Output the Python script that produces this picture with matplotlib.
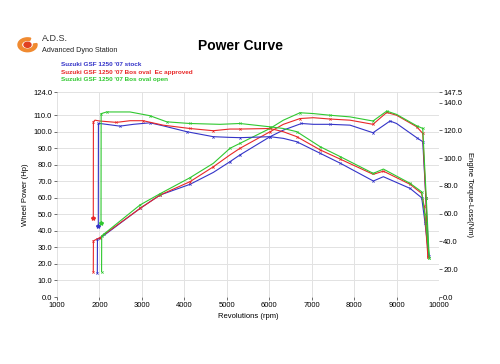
import matplotlib
matplotlib.use("Agg")
import matplotlib.pyplot as plt
from matplotlib.patches import Wedge
import numpy as np

plt.rcParams['font.family'] = ['Liberation Sans', 'DejaVu Sans']

# ---- data read from the dyno sheet ----
names = ["Suzuki GSF 1250 '07 stock",
         "Suzuki GSF 1250 '07 Bos oval  Ec approved",
         "Suzuki GSF 1250 '07 Bos oval open"]
colors = ['#3434c8', '#e82828', '#30c830']

# wheel power (Hp), left axis
rpm_pw_stock = [1950, 1953, 2013, 2956, 3427, 4134, 4683, 5076, 5312, 6019, 6333, 6760, 7040,
                7430, 7904, 8445, 8846, 9000, 9475, 9617, 9690, 9760]
pw_stock = [14.3, 35.0, 35.5, 53.6, 61.7, 68.2, 75.4, 81.9, 86.0, 97.0, 101.0, 105.0, 104.5,
            104.5, 104.0, 99.4, 106.5, 105.0, 96.4, 94.0, 60.0, 25.0]
rpm_pw_ec = [1855, 1858, 2013, 2956, 3427, 4134, 4683, 5076, 5312, 6019, 6333, 6726, 7040,
             7430, 7904, 8445, 8768, 9000, 9475, 9617, 9690, 9740]
pw_ec = [15.3, 34.0, 36.0, 53.6, 61.7, 69.8, 78.8, 86.0, 90.0, 100.0, 104.5, 108.0, 108.5,
         107.7, 107.0, 104.5, 111.7, 110.0, 103.0, 99.0, 60.0, 24.0]
rpm_pw_open = [2050, 2053, 2100, 2956, 3427, 4134, 4683, 5076, 5312, 6019, 6333, 6726, 7040,
               7430, 7904, 8445, 8768, 9000, 9475, 9617, 9700, 9770]
pw_open = [15.3, 37.0, 38.0, 55.7, 62.5, 72.2, 80.9, 90.0, 93.0, 102.0, 107.0, 111.5, 111.0,
           110.0, 109.0, 106.5, 112.5, 110.5, 103.6, 102.0, 60.0, 23.6]

# engine torque-loss (Nm), right axis
rpm_tq_stock = [1973, 1976, 2013, 2484, 2800, 3190, 3505, 4056, 4683, 5076, 5312, 6019, 6333,
                6647, 7197, 7668, 8453, 8689, 9318, 9593, 9670, 9760]
tq_stock = [51.1, 124.9, 124.9, 123.0, 124.3, 125.4, 123.2, 119.0, 115.4, 114.9, 114.7, 115.4,
            114.2, 111.8, 103.5, 96.4, 83.5, 86.6, 78.2, 71.4, 53.5, 29.7]
rpm_tq_ec = [1855, 1858, 1895, 2000, 2400, 2720, 3030, 3500, 4130, 4680, 5070, 5310, 6020,
             6330, 6650, 7200, 7670, 8450, 8690, 9320, 9590, 9650, 9740]
tq_ec = [56.6, 126.1, 127.3, 126.7, 125.7, 126.9, 126.9, 123.7, 121.3, 119.7, 120.9, 120.9,
         121.3, 119.0, 115.4, 105.9, 99.3, 88.3, 90.6, 81.1, 74.6, 65.4, 28.6]
rpm_tq_open = [2037, 2040, 2170, 2720, 3190, 3585, 4130, 4840, 5310, 6020, 6330, 6650, 7200,
               7670, 8450, 8690, 9320, 9590, 9670, 9770]
tq_open = [53.1, 132.0, 133.2, 133.2, 130.5, 126.1, 124.9, 124.3, 124.9, 122.5, 121.3, 119.0,
           108.2, 101.1, 89.0, 92.1, 81.8, 75.8, 59.5, 28.1]

x_ticks = [1000, 2000, 3000, 4000, 5000, 6000, 7000, 8000, 9000, 10000]
left_ticks = [0, 10, 20, 30, 40, 50, 60, 70, 80, 90, 100, 110, 124]
right_ticks = [0, 20, 40, 60, 80, 100, 120, 140, 147.5]

power = [(rpm_pw_stock, pw_stock), (rpm_pw_ec, pw_ec), (rpm_pw_open, pw_open)]
torque = [(rpm_tq_stock, tq_stock), (rpm_tq_ec, tq_ec), (rpm_tq_open, tq_open)]

fig = plt.figure(figsize=(5.0, 3.64), dpi=100)
ax = fig.add_axes([0.114, 0.184, 0.764, 0.563])
ax2 = ax.twinx()

for (x, y), c in zip(power, colors):
    ax.plot(x, y, color=c, lw=0.8, marker='x', ms=1.6, mew=0.5, markevery=0.07)
for (x, y), c in zip(torque, colors):
    ax2.plot(x, y, color=c, lw=0.8, marker='x', ms=1.6, mew=0.5, markevery=0.07)
    ax2.plot(x[0], y[0], color=c, marker='*', ms=3, ls='none')

ax.set_xlim(1000, 10000)
ax.set_ylim(0, 124)
ax2.set_ylim(0, 147.5)
ax.set_xticks(x_ticks)
ax.set_yticks(left_ticks)
ax.set_yticklabels(['%.1f' % v for v in left_ticks])
ax2.set_yticks(right_ticks)
ax2.set_yticklabels(['%.1f' % v for v in right_ticks])
ax.grid(True, color='#e2e2e2', lw=0.7)
ax.set_axisbelow(True)

for a in (ax, ax2):
    for s in a.spines.values():
        s.set_visible(False)
ax.tick_params(axis='both', labelsize=5.5, length=2.5, width=0.6, color='#555555', pad=1)
ax2.tick_params(axis='y', labelsize=5.5, length=2.5, width=0.6, color='#555555', pad=0.5)

ax.set_xlabel('Revolutions (rpm)', fontsize=5.5, labelpad=3)
ax.set_ylabel('Wheel Power (Hp)', fontsize=5.5, labelpad=3)
ax2.set_ylabel('Engine Torque-Loss(Nm)', fontsize=5.5, rotation=-90, labelpad=8)

fig.text(0.48, 0.875, 'Power Curve', fontsize=10, fontweight='bold', ha='center', va='center')
fig.text(0.084, 0.895, 'A.D.S.', fontsize=6.5, ha='left', va='center', color='#333333')
fig.text(0.084, 0.862, 'Advanced Dyno Station', fontsize=5.2, ha='left', va='center', color='#222222')
fig.patches.append(Wedge((0.055, 0.877), 0.019, 70, 370, width=0.007, color='#f08a30',
                         transform=fig.transFigure, figure=fig))
fig.patches.append(Wedge((0.055, 0.877), 0.007, 0, 360, color='#e04020',
                         transform=fig.transFigure, figure=fig))

for i, (n, c) in enumerate(zip(names, colors)):
    fig.text(0.122, 0.822 - i * 0.02, n, fontsize=4.6, color=c, fontweight='bold',
             ha='left', va='center')

fig.savefig('out.png', dpi=100, facecolor='white')
